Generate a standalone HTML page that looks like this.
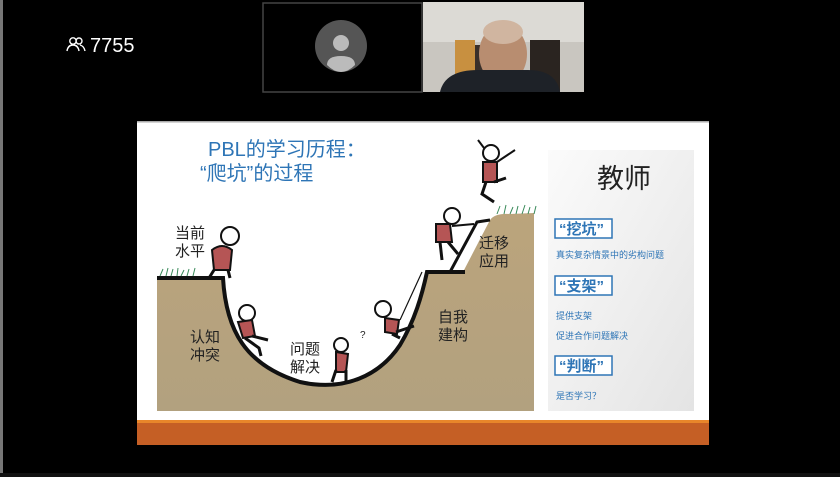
<!DOCTYPE html>
<html><head><meta charset="utf-8"><style>
html,body{margin:0;padding:0;background:#000;}
body{width:840px;height:477px;overflow:hidden;position:relative;font-family:"Liberation Sans","Noto Sans CJK SC",sans-serif;}
</style></head><body>
<svg width="840" height="477" viewBox="0 0 840 477" xmlns="http://www.w3.org/2000/svg" style="position:absolute;left:0;top:0">
<defs>
<linearGradient id="sand" x1="0" y1="0" x2="0" y2="1"><stop offset="0" stop-color="#bba47c"/><stop offset="1" stop-color="#b2a17f"/></linearGradient>
<linearGradient id="pan" x1="0" y1="0" x2="1" y2="1"><stop offset="0" stop-color="#fbfbfb"/><stop offset="1" stop-color="#e4e4e4"/></linearGradient>
</defs>
<rect x="0" y="0" width="3" height="477" fill="#777"/>
<rect x="0" y="473" width="840" height="4" fill="#111"/>
<!-- people icon + count -->
<g fill="none" stroke="#fff" stroke-width="1.4">
<circle cx="73" cy="41" r="3.2"/><path d="M67 51 q1-6 6-6 q5 0 6 6"/>
<circle cx="79" cy="41" r="3"/><path d="M80 45 q4 1 5 6"/>
</g>
<text x="90" y="52" fill="#fff" font-size="20" font-family="Liberation Sans,sans-serif">7755</text>
<!-- video tiles -->
<rect x="263" y="3" width="159" height="89" fill="#000" stroke="#444" stroke-width="1.5"/>
<circle cx="341" cy="46" r="26" fill="#555"/>
<circle cx="341" cy="43" r="8" fill="#bbb"/>
<path d="M327 65 q0-9 14-9 q14 0 14 9 q-7 7 -14 7 q-7 0 -14-7z" fill="#bbb"/>
<rect x="423" y="2" width="161" height="90" fill="#c9c6c0"/>
<rect x="423" y="2" width="161" height="40" fill="#dcdad5"/>
<rect x="455" y="40" width="20" height="52" fill="#c89040"/>
<rect x="475" y="45" width="28" height="47" fill="#3a302a"/>
<rect x="530" y="40" width="30" height="52" fill="#2a2420"/>
<ellipse cx="503" cy="54" rx="24" ry="30" fill="#b88d70"/>
<ellipse cx="503" cy="32" rx="20" ry="12" fill="#d0b5a0"/>
<path d="M440 92 q5-22 38-22 l50 0 q28 0 32 22z" fill="#1e2228"/>
<!-- slide -->
<rect x="137" y="122" width="572" height="323" fill="#fff"/>
<rect x="137" y="121" width="572" height="1.5" fill="#aaa"/>
<rect x="548" y="150" width="146" height="261" fill="url(#pan)"/>
<rect x="137" y="420" width="572" height="3" fill="#e8862a"/>
<rect x="137" y="423" width="572" height="22" fill="#c55f25"/>
<!-- title -->
<text x="208" y="156" fill="#2e75b6" font-size="20" font-family="Liberation Sans,Noto Sans CJK SC,sans-serif">PBL的学习历程：</text>
<text x="200" y="180" fill="#2e75b6" font-size="20" font-family="Liberation Sans,Noto Sans CJK SC,sans-serif">“爬坑”的过程</text>
<!-- terrain -->
<path d="M157 278 L223 278 C226 330 245 365 300 382 C345 392 380 375 400 345 C415 320 422 295 427 272 L463 272 L490 220 Q495 213 510 214 L534 213 L534 411 L157 411 Z" fill="url(#sand)"/>
<path d="M157 278 L223 278 C226 330 245 365 300 382 C345 392 380 375 400 345 C415 320 422 295 427 272 L465 272" fill="none" stroke="#111" stroke-width="4"/>
<path d="M450 272 L477 222 L490 220" fill="none" stroke="#111" stroke-width="3"/>
<path d="M160 276 l3-7 m3 7 l2-8 m3 8 l2-7 m4 7 l1-8 m3 8 l3-6 m3 6 l2-7 m4 7 l2-8" stroke="#3a8a5a" stroke-width="1"/>
<path d="M497 214 l3-8 m4 8 l2-9 m4 9 l3-7 m3 7 l2-8 m4 8 l3-9 m3 9 l2-7 m4 7 l2-8" stroke="#3a8a5a" stroke-width="1"/>
<!-- figures -->
<g stroke="#111" stroke-width="2" fill="#fff">
<circle cx="230" cy="236" r="9"/>
<path d="M212 250 q10-8 20 0 l-2 20 -16 0z" fill="#b55555"/>
<path d="M214 270 l-5 8 M228 270 l2 8" fill="none" stroke-width="3"/>
<circle cx="247" cy="313" r="8"/>
<path d="M238 322 l14 -2 3 16 -12 2z" fill="#b55555"/>
<path d="M245 338 l14 10 2 8 M252 336 l16 4" fill="none" stroke-width="3"/>
<circle cx="341" cy="345" r="7"/>
<path d="M336 352 l12 2 -2 18 -10 0z" fill="#b55555"/>
<path d="M336 370 l-4 12 M346 370 l0 12" fill="none" stroke-width="3"/>
<circle cx="383" cy="309" r="8"/>
<path d="M385 318 l14 2 -2 14 -12-2z" fill="#b55555"/>
<path d="M396 332 l18-6 M392 334 l8 4" fill="none" stroke-width="3"/>
<path d="M400 320 L422 272" fill="none" stroke-width="1.2"/>
<circle cx="452" cy="216" r="8"/>
<path d="M436 224 l14 0 2 18 -16 0z" fill="#b55555"/>
<path d="M448 242 l10 12 M440 242 l2 18" fill="none" stroke-width="3"/>
<path d="M452 226 l22-2" fill="none"/>
<circle cx="491" cy="153" r="8"/>
<path d="M483 162 l14 0 0 20 -14 0z" fill="#b55555"/>
<path d="M486 182 l-4 12 12 8 M494 182 l12 -4" fill="none" stroke-width="3"/>
<path d="M497 162 l18-12 M484 148 l-6-8" fill="none"/>
</g>
<text x="360" y="338" font-size="10" fill="#222">?</text>
<!-- labels -->
<g font-size="15" fill="#222" font-family="Liberation Sans,Noto Sans CJK SC,sans-serif">
<text x="175" y="238">当前</text><text x="175" y="256">水平</text>
<text x="190" y="342">认知</text><text x="190" y="360">冲突</text>
<text x="290" y="354">问题</text><text x="290" y="372">解决</text>
<text x="438" y="322">自我</text><text x="438" y="340">建构</text>
<text x="479" y="248">迁移</text><text x="479" y="266">应用</text>
</g>
<!-- right panel -->
<text x="597" y="188" font-size="27" fill="#222" font-family="Liberation Sans,Noto Sans CJK SC,sans-serif">教师</text>
<g font-family="Liberation Sans,Noto Sans CJK SC,sans-serif" fill="#2e75b6">
<rect x="555" y="219" width="57" height="19" fill="#fff" stroke="#2e75b6" stroke-width="1.5"/>
<text x="559" y="234" font-size="15" font-weight="bold">“挖坑”</text>
<text x="556" y="258" font-size="9">真实复杂情景中的劣构问题</text>
<rect x="555" y="276" width="57" height="19" fill="#fff" stroke="#2e75b6" stroke-width="1.5"/>
<text x="559" y="291" font-size="15" font-weight="bold">“支架”</text>
<text x="556" y="319" font-size="9">提供支架</text>
<text x="556" y="339" font-size="9">促进合作问题解决</text>
<rect x="555" y="356" width="57" height="19" fill="#fff" stroke="#2e75b6" stroke-width="1.5"/>
<text x="559" y="371" font-size="15" font-weight="bold">“判断”</text>
<text x="556" y="399" font-size="9">是否学习？</text>
</g>
</svg>
</body></html>
